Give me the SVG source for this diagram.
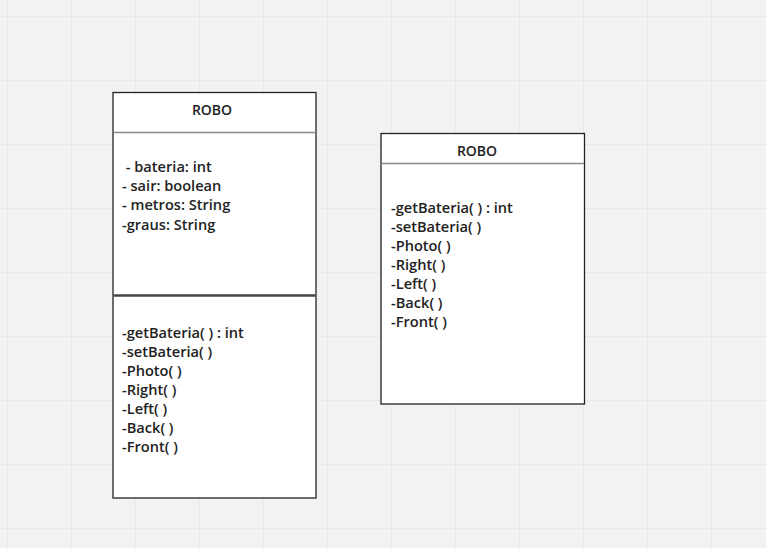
<svg xmlns="http://www.w3.org/2000/svg" width="766" height="548" viewBox="0 0 766 548">
<defs>
<pattern id="grid" x="7" y="16" width="64" height="64" patternUnits="userSpaceOnUse">
<path d="M0 0H64M0 0V64" fill="none" stroke="#e6e6e6" stroke-width="1.5"/>
</pattern>
</defs>
<style>
.box{fill:#ffffff;stroke:#222222;stroke-width:1.3}
.hdr{stroke:#8a8a8a;stroke-width:1.5}
.div{stroke:#444444;stroke-width:2.5}
text{font-family:"Open Sans","Noto Sans","DejaVu Sans",sans-serif;font-weight:600;font-size:14.6px;fill:#222222}
.title{text-anchor:middle;font-size:14px}
</style>
<rect width="766" height="548" fill="#f2f2f2"/>
<rect width="766" height="548" fill="url(#grid)"/>
<g id="robo-left">
<rect class="box" x="113" y="92.5" width="203" height="405.5"/>
<line class="hdr" x1="113.5" y1="132.5" x2="315.5" y2="132.5"/>
<line class="div" x1="113.5" y1="295.5" x2="315.5" y2="295.5"/>
<text class="title" x="212" y="115">ROBO</text>
<text x="122" y="172" xml:space="preserve"> - bateria: int</text>
<text x="122" y="191">- sair: boolean</text>
<text x="122" y="210">- metros: String</text>
<text x="122" y="230">-graus: String</text>
<text x="122" y="338">-getBateria( ) : int</text>
<text x="122" y="357">-setBateria( )</text>
<text x="122" y="376">-Photo( )</text>
<text x="122" y="395">-Right( )</text>
<text x="122" y="414">-Left( )</text>
<text x="122" y="433">-Back( )</text>
<text x="122" y="452">-Front( )</text>
</g>
<g id="robo-right">
<rect class="box" x="381" y="133.5" width="203.5" height="270.5"/>
<line class="hdr" x1="381.5" y1="163.5" x2="584" y2="163.5"/>
<text class="title" x="477" y="156">ROBO</text>
<text x="391" y="213">-getBateria( ) : int</text>
<text x="391" y="232">-setBateria( )</text>
<text x="391" y="251">-Photo( )</text>
<text x="391" y="270">-Right( )</text>
<text x="391" y="289">-Left( )</text>
<text x="391" y="308">-Back( )</text>
<text x="391" y="327">-Front( )</text>
</g>
<g id="connectors"></g>
</svg>
